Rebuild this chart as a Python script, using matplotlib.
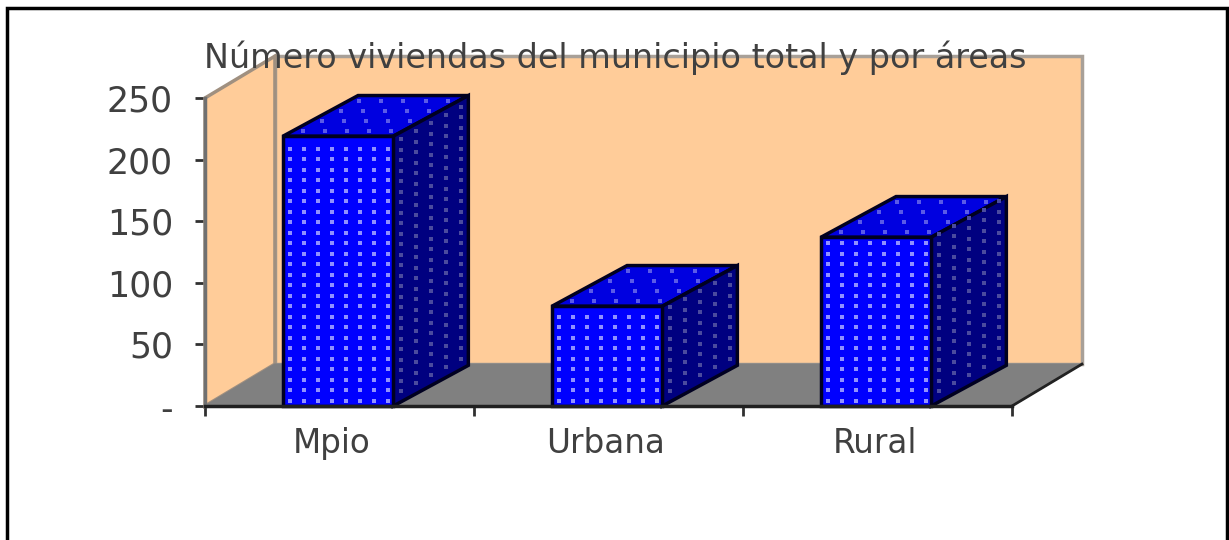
import matplotlib
matplotlib.use('Agg')
import matplotlib.pyplot as plt
import numpy as np
from matplotlib.patches import Polygon, Rectangle

plt.rcParams['font.family'] = ['DejaVu Sans']

title = 'Número viviendas del municipio total y por áreas'
categories = ['Mpio', 'Urbana', 'Rural']
values = [219, 81, 137]
yticks = [0, 50, 100, 150, 200, 250]
ylabels = ['-', '50', '100', '150', '200', '250']

fig = plt.figure(figsize=(12.29, 5.40), dpi=100, facecolor='white')
ax = fig.add_axes([205 / 1229, 134 / 540, 807 / 1229, 308 / 540])
ax.set_xlim(0, 3)
ax.set_ylim(0, 250)
ax.patch.set_visible(False)

# depth of the fake 3d box and of the bars
wall_dx, wall_dy = 0.26, 34
bar_dx, bar_dy = 0.279, 33
bar_w = 0.41
bar_off = 0.495


def face(pts, color, edge, lw=1.5, z=2):
    ax.add_patch(Polygon(pts, closed=True, facecolor=color, edgecolor=edge, linewidth=lw,
                         zorder=z, clip_on=False, joinstyle='miter'))


# walls and floor
face([(wall_dx, wall_dy), (3 + wall_dx, wall_dy), (3 + wall_dx, 250 + wall_dy), (wall_dx, 250 + wall_dy)],
     '#ffcc99', '#a8a098', 2.5)
face([(0, 0), (wall_dx, wall_dy), (wall_dx, 250 + wall_dy), (0, 250)], '#ffcc99', '#a09080', 2.5)
face([(0, 0), (3, 0), (3 + wall_dx, wall_dy), (wall_dx, wall_dy)], '#808080', '#808080', 1, 3)
ax.plot([3, 3 + wall_dx], [0, wall_dy], color='#222222', lw=2, zorder=4, clip_on=False)

# bars, with the dotted fill of the original
step_x = 14 / 269
step_y = 10.5 / 1.232
for i, v in enumerate(values):
    x0 = i + bar_off - bar_w / 2
    x1 = x0 + bar_w
    face([(x0, v), (x1, v), (x1 + bar_dx, v + bar_dy), (x0 + bar_dx, v + bar_dy)], '#0000e0', '#000020', 2.5, 5)
    face([(x1, 0), (x1 + bar_dx, bar_dy), (x1 + bar_dx, v + bar_dy), (x1, v)], '#000080', '#000020', 2.5, 5)
    face([(x0, 0), (x1, 0), (x1, v), (x0, v)], '#0000ff', '#000020', 2.5, 6)

    # front dots
    gx, gy = np.meshgrid(np.arange(x0 + 0.5 * step_x, x1 - 0.2 * step_x, step_x),
                         np.arange(step_y * 0.5, v - 0.3 * step_y, step_y))
    ax.scatter(gx.ravel(), gy.ravel(), s=12, marker='s', color='#9090ff', linewidths=0, zorder=7, clip_on=False)

    # side dots, sheared with the face
    t, h = np.meshgrid(np.arange(0.1, 0.99, 0.2), np.arange(step_y, v, step_y))
    sx = x1 + t * bar_dx
    sy = h + t * bar_dy
    ax.scatter(sx.ravel(), sy.ravel(), s=10, marker='s', color='#4a4a9e', linewidths=0, zorder=7, clip_on=False)

    # top dots
    t, u = np.meshgrid(np.arange(0.1, 0.99, 0.2), np.arange(0.12, 0.99, 0.25))
    tx = x0 + t * bar_w + u * bar_dx
    ty = v + u * bar_dy
    ax.scatter(tx.ravel(), ty.ravel(), s=10, marker='s', color='#5a5ae8', linewidths=0, zorder=7, clip_on=False)

# axes
for s in ['top', 'right']:
    ax.spines[s].set_visible(False)
ax.spines['left'].set_color('#707070')
ax.spines['left'].set_linewidth(2.5)
ax.spines['bottom'].set_color('#202020')
ax.spines['bottom'].set_linewidth(2.5)
ax.spines['bottom'].set_zorder(8)
ax.set_yticks(yticks)
ax.set_yticklabels(ylabels, fontsize=25, color='#404040')
ax.tick_params(axis='y', length=7, width=2, color='#303030', pad=16)
ax.set_xticks([0, 1, 2, 3])
ax.set_xticklabels([])
ax.tick_params(axis='x', length=7, width=2, color='#303030')
ax.set_xticks([0.47, 1.49, 2.49], minor=True)
ax.set_xticklabels(categories, minor=True, fontsize=23.5, color='#404040')
ax.tick_params(axis='x', which='minor', length=0, pad=15)

fig.text(615 / 1229, 1 - 58 / 540, title, fontsize=24, color='#404040', ha='center', va='center', zorder=20)

# chart frame, runs off the bottom of the image
fig.add_artist(Rectangle((7 / 1229, -0.05), 1220 / 1229, 1.05 - 8 / 540, transform=fig.transFigure,
                         fill=False, edgecolor='black', linewidth=2.5))

fig.savefig('out.png', dpi=100)
